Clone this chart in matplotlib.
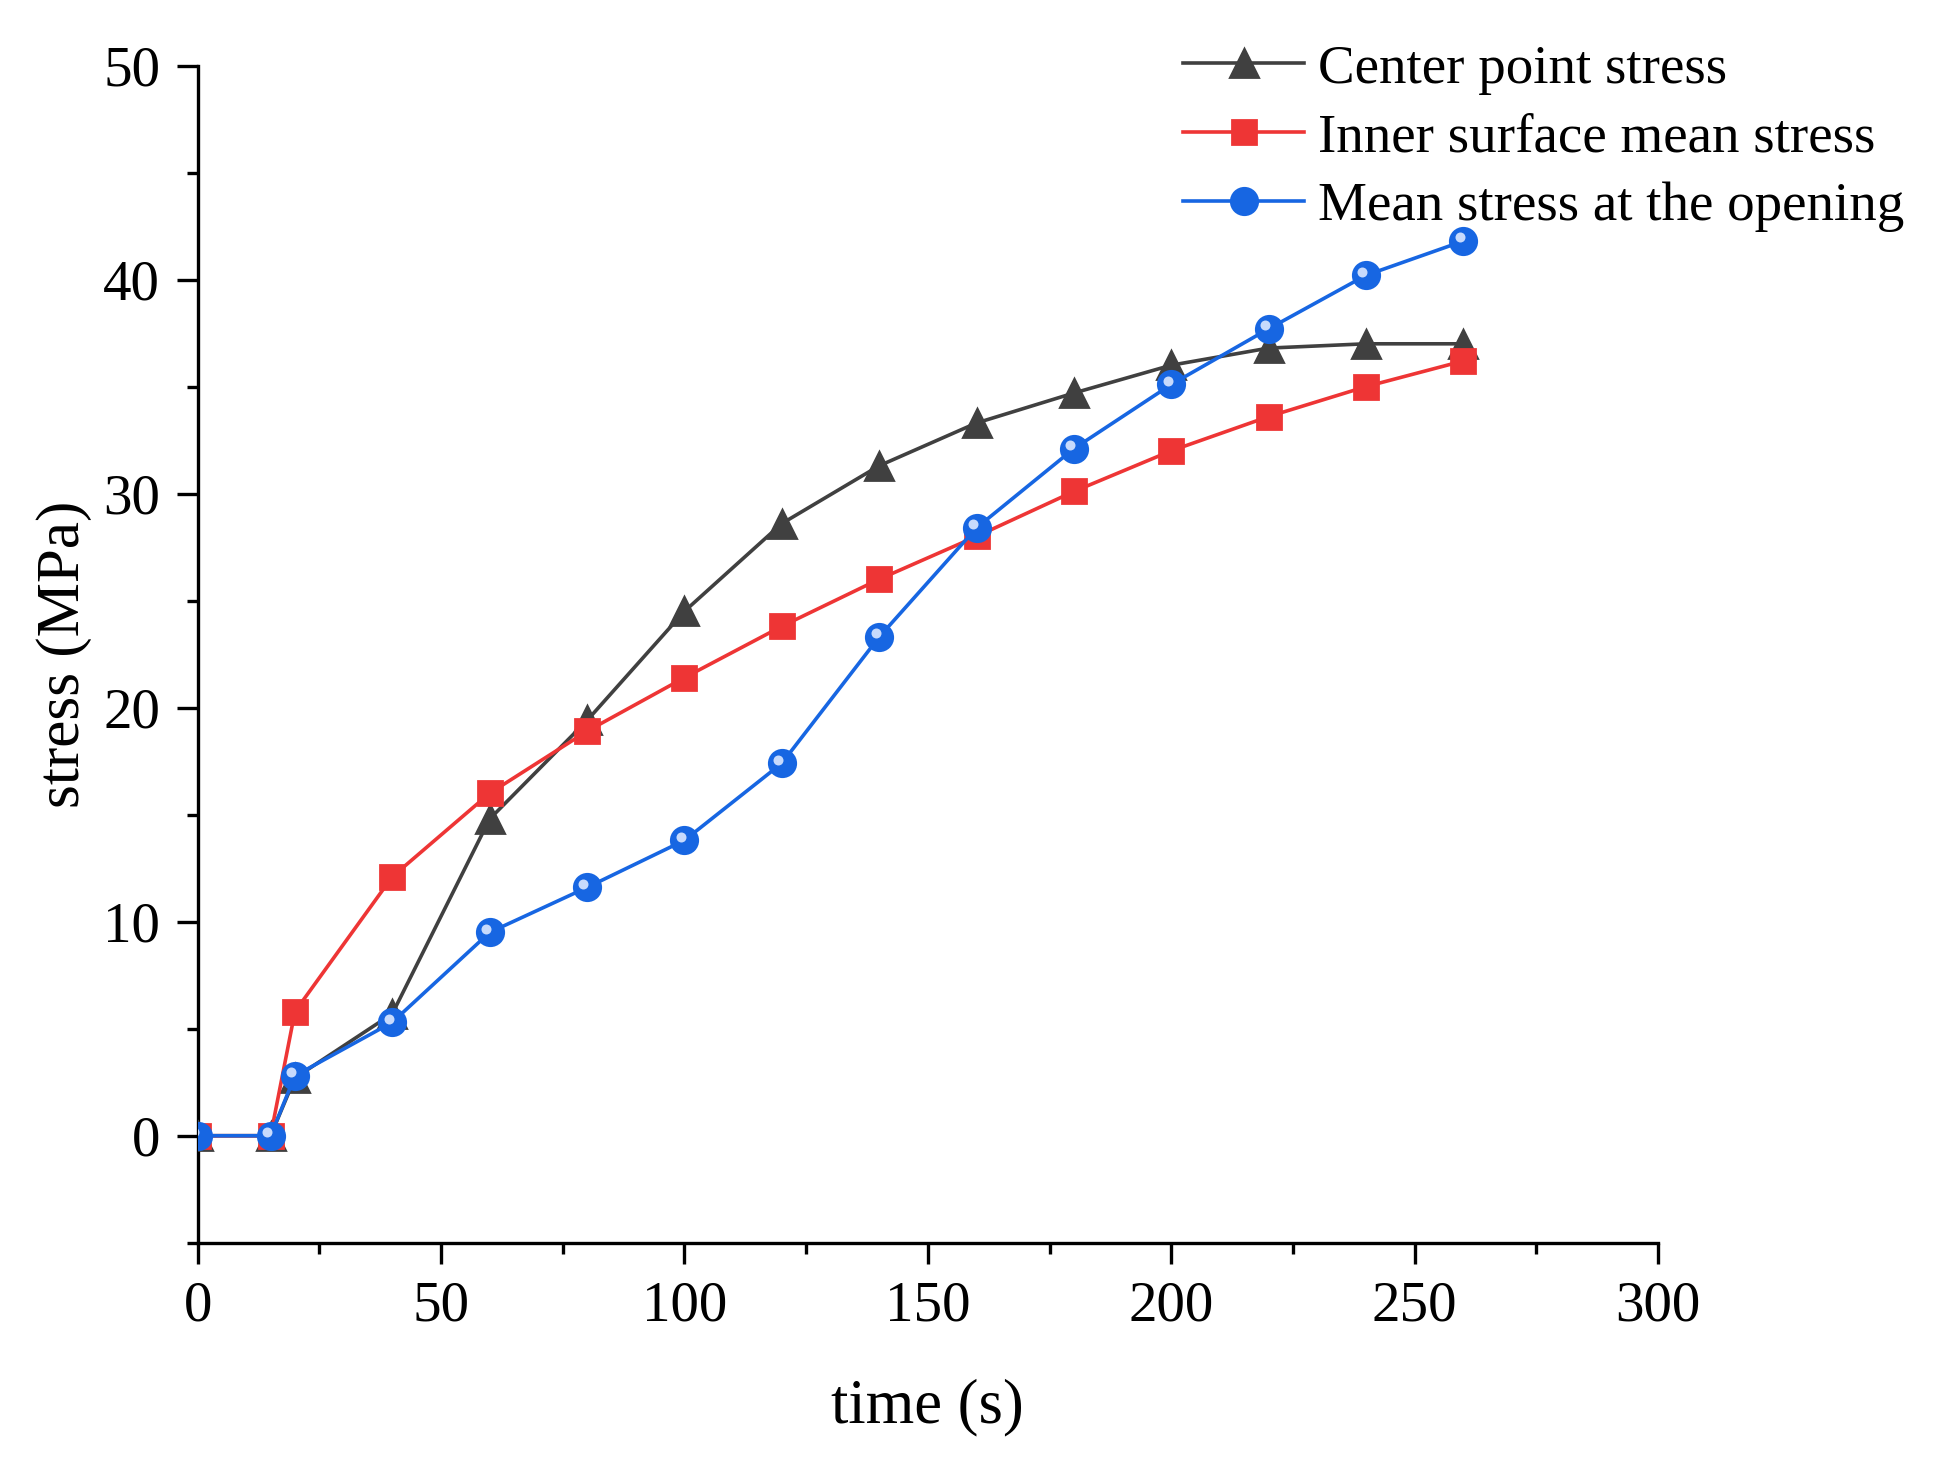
import numpy as np
import matplotlib.pyplot as plt
import matplotlib.transforms as mtransforms
from matplotlib.ticker import MultipleLocator

# data
time_s = [0, 15, 20, 40, 60, 80, 100, 120, 140, 160, 180, 200, 220, 240, 260]
center_stress = [0, 0, 2.7, 5.7, 14.8, 19.4, 24.5, 28.6, 31.3, 33.3, 34.7, 36.0, 36.8, 37.0, 37.0]
inner_stress = [0, 0, 5.8, 12.1, 16.0, 18.9, 21.4, 23.8, 26.0, 28.0, 30.1, 32.0, 33.6, 35.0, 36.2]
opening_stress = [0, 0, 2.8, 5.3, 9.5, 11.6, 13.8, 17.4, 23.3, 28.4, 32.1, 35.1, 37.7, 40.2, 41.8]

labels = ['Center point stress', 'Inner surface mean stress', 'Mean stress at the opening']

plt.rcParams['font.family'] = ['Liberation Serif', 'DejaVu Serif']

fig = plt.figure(figsize=(9.685, 7.35), dpi=200)
ax = fig.add_axes([0.102, 0.1546, 0.754, 0.8008])

c_black = '#404040'
c_red = '#ee3535'
c_blue = '#1766e2'

ax.plot(time_s, center_stress, color=c_black, lw=1.3, marker='^', ms=10,
        mec=c_black, mfc=c_black, label=labels[0], zorder=3)
ax.plot(time_s, inner_stress, color=c_red, lw=1.3, marker='s', ms=8.8,
        mec=c_red, mfc=c_red, label=labels[1], zorder=4)
ax.plot(time_s, opening_stress, color=c_blue, lw=1.3, marker='o', ms=9.5,
        mec=c_blue, mfc=c_blue, label=labels[2], zorder=5)
# little shine on the blue spheres
shine = ax.transData + mtransforms.ScaledTranslation(-1.3 / 72, 1.3 / 72, fig.dpi_scale_trans)
ax.plot(time_s, opening_stress, ls='none', marker='o', ms=3.6,
        mfc='#dbe8ff', mec='none', alpha=0.9, zorder=6, transform=shine)

ax.set_xlim(0, 300)
ax.set_ylim(-5, 50)
ax.xaxis.set_major_locator(MultipleLocator(50))
ax.xaxis.set_minor_locator(MultipleLocator(25))
ax.yaxis.set_major_locator(MultipleLocator(10))
ax.yaxis.set_minor_locator(MultipleLocator(5))

for s in ['top', 'right']:
    ax.spines[s].set_visible(False)
for s in ['left', 'bottom']:
    ax.spines[s].set_linewidth(1.2)

ax.tick_params(which='major', direction='out', length=7.5, width=1.2, labelsize=20.5, pad=6)
ax.tick_params(which='minor', direction='out', length=4, width=1.2)

ax.set_xlabel('time (s)', fontsize=22.5, labelpad=16.5)
ax.set_ylabel('stress (MPa)', fontsize=22, labelpad=4)

leg = fig.legend(loc='upper left', bbox_to_anchor=(0.5995, 0.985), frameon=False,
                 fontsize=19.8, handlelength=2.2, handletextpad=0.25, labelspacing=0.33,
                 borderaxespad=0)

fig.savefig('out.png', dpi=200)
